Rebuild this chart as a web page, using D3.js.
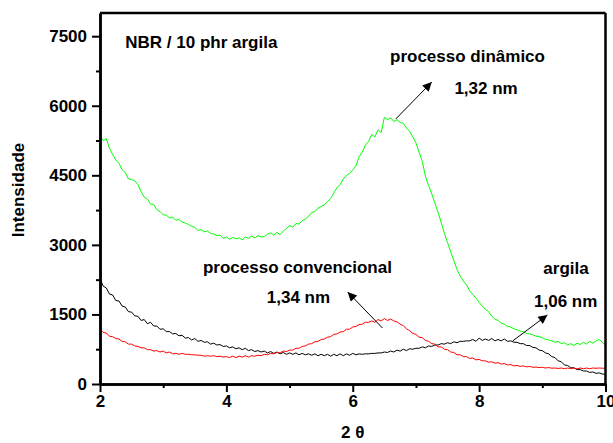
<!DOCTYPE html>
<html>
<head>
<meta charset="utf-8">
<script src="https://cdn.jsdelivr.net/npm/d3@7"></script>
<style>
  body { margin: 0; background: #fff; }
  text { font-family: "Liberation Sans", Arial, sans-serif; font-weight: bold; }
</style>
</head>
<body>
<div id="chart"></div>
<script>
// 2 theta (degrees)
var theta = [
  2.00,2.05,2.10,2.15,2.20,2.25,2.30,2.35,2.40,2.45,2.50,2.55,2.60,2.65,2.70,2.75,2.80,2.85,2.90,2.95,
  3.00,3.05,3.10,3.15,3.20,3.25,3.30,3.35,3.40,3.45,3.50,3.55,3.60,3.65,3.70,3.75,3.80,3.85,3.90,3.95,
  4.00,4.05,4.10,4.15,4.20,4.25,4.30,4.35,4.40,4.45,4.50,4.55,4.60,4.65,4.70,4.75,4.80,4.85,4.90,4.95,
  5.00,5.05,5.10,5.15,5.20,5.25,5.30,5.35,5.40,5.45,5.50,5.55,5.60,5.65,5.70,5.75,5.80,5.85,5.90,5.95,
  6.00,6.05,6.10,6.15,6.20,6.25,6.30,6.35,6.40,6.45,6.50,6.55,6.60,6.65,6.70,6.75,6.80,6.85,6.90,6.95,
  7.00,7.05,7.10,7.15,7.20,7.25,7.30,7.35,7.40,7.45,7.50,7.55,7.60,7.65,7.70,7.75,7.80,7.85,7.90,7.95,
  8.00,8.05,8.10,8.15,8.20,8.25,8.30,8.35,8.40,8.45,8.50,8.55,8.60,8.65,8.70,8.75,8.80,8.85,8.90,8.95,
  9.00,9.05,9.10,9.15,9.20,9.25,9.30,9.35,9.40,9.45,9.50,9.55,9.60,9.65,9.70,9.75,9.80,9.85,9.90,9.95,
  10.00
];

// processo dinamico (green)
var dinamico = [
  5330,5250,5290,5080,4950,4830,4760,4620,4560,4420,4410,4380,4300,4150,4030,3990,3880,3870,3760,3720,
  3650,3640,3580,3600,3530,3550,3490,3470,3440,3400,3380,3310,3330,3280,3300,3250,3230,3200,3210,3140,
  3170,3120,3160,3130,3150,3110,3170,3140,3190,3150,3200,3170,3180,3230,3260,3210,3270,3220,3300,3350,
  3420,3380,3460,3450,3520,3560,3610,3700,3720,3790,3830,3860,3930,4000,4120,4230,4300,4420,4500,4540,
  4620,4700,4900,5000,5150,5230,5380,5330,5480,5420,5750,5700,5740,5660,5700,5640,5620,5520,5450,5330,
  5200,5000,4800,4480,4280,4100,3900,3700,3480,3250,3050,2850,2660,2470,2330,2220,2140,2010,1930,1850,
  1760,1680,1610,1560,1460,1400,1370,1310,1290,1240,1230,1190,1170,1140,1130,1090,1080,1060,1030,1020,
  1000,960,950,930,900,920,870,890,840,870,830,880,850,900,860,920,880,930,960,900,
  830
];

// argila (black)
var argila = [
  2280,2110,2070,1940,1920,1800,1790,1680,1660,1560,1550,1470,1460,1370,1390,1300,1330,1250,1250,1180,
  1190,1130,1130,1080,1090,1040,1050,990,1000,950,980,920,940,900,910,860,880,840,850,810,
  820,780,800,760,780,740,770,720,740,700,720,690,710,670,700,660,690,650,680,640,
  670,640,670,630,660,630,650,620,650,610,640,610,640,600,640,610,650,610,650,620,
  660,630,650,640,650,650,660,660,670,670,690,680,710,690,730,710,750,720,760,750,
  770,770,800,780,820,810,840,840,870,860,890,870,910,890,920,920,930,930,960,920,
  990,940,970,940,980,930,960,930,970,920,930,900,900,870,870,830,830,790,780,730,
  720,670,650,590,570,500,480,410,400,350,350,310,310,280,280,250,260,230,240,215,
  210
];

// processo convencional (red)
var convencional = [
  1180,1110,1100,1030,1020,980,970,920,910,860,860,820,810,780,780,740,740,710,720,690,
  710,670,690,650,660,640,660,640,640,630,630,620,620,600,610,600,610,590,600,580,
  590,570,600,570,600,580,610,580,610,600,620,610,640,630,660,650,680,670,710,700,
  730,730,770,770,810,820,860,870,910,920,960,970,1010,1020,1070,1080,1120,1130,1180,1180,
  1230,1240,1280,1290,1330,1330,1360,1330,1390,1360,1410,1370,1400,1360,1340,1290,1260,1190,1150,1090,
  1070,1010,1000,940,920,870,860,800,800,750,740,690,680,630,630,590,590,550,560,520,
  530,500,500,470,480,450,460,430,440,410,420,390,400,380,390,370,380,360,365,355,
  360,345,355,340,345,335,345,330,345,330,345,325,345,330,345,330,345,340,345,340,
  340
];

var series = [
  { name: "argila", values: argila, color: "#000000" },
  { name: "convencional", values: convencional, color: "#ff0000" },
  { name: "dinamico", values: dinamico, color: "#00ff00" }
];

var xMajor = [2, 4, 6, 8, 10];
var xMinor = [3, 5, 7, 9];
var yMajor = [0, 1500, 3000, 4500, 6000, 7500];
var yMinor = [750, 2250, 3750, 5250, 6750];

// annotations: text in data coordinates, arrows from curve to tip
var labels = [
  { text: "NBR / 10 phr argila", x: 2.4, y: 7245, anchor: "start" },
  { text: "processo dinâmico", x: 6.59, y: 6943, anchor: "start" },
  { text: "1,32 nm", x: 8.11, y: 6253, anchor: "middle" },
  { text: "processo convencional", x: 5.125, y: 2393, anchor: "middle" },
  { text: "1,34 nm", x: 5.14, y: 1747, anchor: "middle" },
  { text: "argila", x: 9.375, y: 2372, anchor: "middle" },
  { text: "1,06 nm", x: 9.37, y: 1660, anchor: "middle" }
];
var arrows = [
  { x1: 6.68, y1: 5713, x2: 7.25, y2: 6510 },
  { x1: 6.47, y1: 1207, x2: 5.92, y2: 1983 },
  { x1: 8.53, y1: 927, x2: 9.08, y2: 1488 }
];

var margin = { top: 13, right: 7.5, bottom: 59, left: 100 };
var width = 613 - margin.left - margin.right;
var height = 443 - margin.top - margin.bottom;

var svg = d3.select("#chart").append("svg")
    .attr("width", 613)
    .attr("height", 443);

var defs = svg.append("defs");
defs.append("marker")
    .attr("id", "head")
    .attr("viewBox", "0 0 10 10")
    .attr("refX", 10)
    .attr("refY", 5)
    .attr("markerWidth", 13)
    .attr("markerHeight", 9)
    .attr("markerUnits", "userSpaceOnUse")
    .attr("orient", "auto")
    .append("path")
    .attr("d", "M0,0 L10,5 L0,10 z")
    .attr("fill", "#000");

var g = svg.append("g")
    .attr("transform", "translate(" + margin.left + "," + margin.top + ")");

var x = d3.scaleLinear().domain([2, 10]).range([0, width]);
var y = d3.scaleLinear().domain([0, 8000]).range([height, 0]);

// curves
var line = d3.line()
    .x(function(d, i) { return x(theta[i]); })
    .y(function(d) { return y(d); });

series.forEach(function(s) {
    g.append("path")
        .datum(s.values)
        .attr("fill", "none")
        .attr("stroke", s.color)
        .attr("stroke-width", 1)
        .attr("d", line);
});

// frame top/right
g.append("line").attr("x1", 0).attr("x2", width).attr("y1", 0).attr("y2", 0)
    .attr("stroke", "#000").attr("stroke-width", 2.5);
g.append("line").attr("x1", width).attr("x2", width).attr("y1", 0).attr("y2", height)
    .attr("stroke", "#000").attr("stroke-width", 2.5);

// axes
g.append("g")
    .attr("transform", "translate(0," + height + ")")
    .call(d3.axisBottom(x).tickValues(xMajor).tickSize(8).tickSizeOuter(0).tickPadding(3)
        .tickFormat(d3.format("d")));
g.append("g")
    .attr("transform", "translate(0," + height + ")")
    .call(d3.axisBottom(x).tickValues(xMinor).tickSize(4).tickSizeOuter(0).tickFormat(""));
g.append("g")
    .call(d3.axisLeft(y).tickValues(yMajor).tickSize(8).tickSizeOuter(0).tickPadding(5)
        .tickFormat(d3.format("d")));
g.append("g")
    .call(d3.axisLeft(y).tickValues(yMinor).tickSize(4).tickSizeOuter(0).tickFormat(""));

g.selectAll(".domain").attr("stroke", "#000").attr("stroke-width", 2.5);
g.selectAll(".tick line").attr("stroke", "#000").attr("stroke-width", 2);
g.selectAll(".tick text")
    .style("font-family", "'Liberation Sans', Arial, sans-serif")
    .style("font-weight", "bold")
    .style("font-size", "17px")
    .attr("fill", "#000");

// axis titles
svg.append("text")
    .attr("transform", "translate(24,190) rotate(-90)")
    .attr("text-anchor", "middle")
    .style("font-size", "17px")
    .text("Intensidade");

svg.append("text")
    .attr("x", margin.left + x(6))
    .attr("y", 438)
    .attr("text-anchor", "middle")
    .style("font-size", "17px")
    .text("2 θ");

// annotations
labels.forEach(function(l) {
    g.append("text")
        .attr("x", x(l.x))
        .attr("y", y(l.y))
        .attr("text-anchor", l.anchor)
        .style("font-size", "17px")
        .text(l.text);
});

arrows.forEach(function(a) {
    g.append("line")
        .attr("x1", x(a.x1)).attr("y1", y(a.y1))
        .attr("x2", x(a.x2)).attr("y2", y(a.y2))
        .attr("stroke", "#000")
        .attr("stroke-width", 1)
        .attr("marker-end", "url(#head)");
});
</script>
</body>
</html>
